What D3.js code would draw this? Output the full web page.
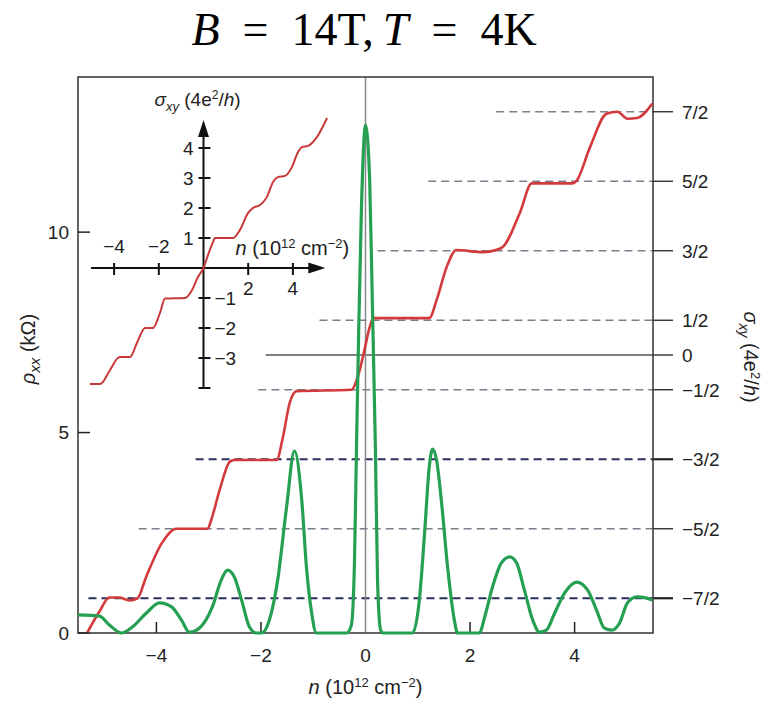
<!DOCTYPE html>
<html>
<head>
<meta charset="utf-8">
<script src="https://cdn.jsdelivr.net/npm/d3@7"></script>
<style>
  body { margin: 0; background: #fff; }
  text { font-family: "Liberation Sans", Arial, sans-serif; fill: #222; }
</style>
</head>
<body>
<div id="chart"></div>
<script>
// data
var nTicks = [-4, -2, 0, 2, 4];
var rhoTicks = [0, 5, 10];
var sigmaLevels = [3.5, 2.5, 1.5, 0.5, 0, -0.5, -1.5, -2.5, -3.5];
var sigmaLabels = ["7/2", "5/2", "3/2", "1/2", "0", "\u22121/2", "\u22123/2", "\u22125/2", "\u22127/2"];
var levelStartN = [2.5, 1.2, 0.23, -0.88, -1.91, -2.05, -3.25, -4.34, -5.3];

// rho_xx (kOhm) vs n
var rhoN = [-5.5, -5.09, -4.9, -4.67, -4.46, -4.19, -3.94, -3.71, -3.52, -3.37, -3.18, -2.93, -2.76, -2.64, -2.51, -2.37, -2.22, -2.09, -1.99, -1.84, -1.68, -1.51, -1.36, -1.22, -1.13, -1.03, -0.94, -0.36, -0.27, -0.21, -0.17, -0.13, -0.08, 0, 0.08, 0.13, 0.19, 0.23, 0.29, 0.34, 0.9, 1.03, 1.13, 1.22, 1.28, 1.36, 1.45, 1.57, 1.7, 1.76, 2.18, 2.28, 2.43, 2.6, 2.76, 2.89, 3.04, 3.2, 3.33, 3.46, 3.62, 3.81, 4.04, 4.25, 4.42, 4.57, 4.71, 4.86, 5.01, 5.19, 5.38, 5.49];
var rhoVal = [0.45, 0.42, 0.2, 0, 0.15, 0.5, 0.75, 0.65, 0.32, 0.02, 0.12, 0.65, 1.32, 1.57, 1.4, 0.82, 0.15, 0, 0, 0.32, 1.32, 3.14, 4.54, 3.32, 1.65, 0.5, 0, 0, 0.2, 1.82, 4.81, 7.56, 10.47, 12.67, 11.3, 8.3, 4.56, 1.32, 0.07, 0, 0, 0.82, 2.49, 4.14, 4.59, 4.31, 3.32, 1.65, 0.32, 0, 0, 0.4, 1.15, 1.75, 1.9, 1.75, 1.07, 0.32, 0.02, 0.07, 0.5, 1.0, 1.27, 1.07, 0.57, 0.12, 0.07, 0.25, 0.75, 0.9, 0.87, 0.82];

// sigma_xy (4e^2/h) vs n
var sigN = [-5.32, -5.09, -4.9, -4.71, -4.52, -4.36, -4.2, -3.89, -3.62, -3.02, -2.95, -2.79, -2.6, -2.51, -1.7, -1.59, -1.45, -1.32, -0.27, -0.15, -0.02, 0.08, 0.15, 1.22, 1.36, 1.55, 1.74, 2.24, 2.6, 2.95, 3.18, 3.96, 4.04, 4.29, 4.61, 4.82, 5.01, 5.19, 5.49];
var sigVal = [-3.99, -3.69, -3.49, -3.49, -3.53, -3.5, -3.2, -2.7, -2.5, -2.5, -2.37, -1.94, -1.54, -1.51, -1.51, -1.22, -0.69, -0.52, -0.5, -0.32, 0.07, 0.4, 0.53, 0.53, 0.79, 1.26, 1.51, 1.48, 1.54, 2.04, 2.47, 2.47, 2.51, 2.98, 3.47, 3.5, 3.4, 3.41, 3.62];

// inset: sigma_xy vs n at low field
var insetN = [-5.08, -4.63, -4.18, -3.83, -3.74, -3.29, -2.98, -2.71, -2.62, -2.26, -1.95, -1.72, -0.83, -0.51, -0.25, 0, 0.2, 0.43, 0.51, 1.32, 1.63, 1.99, 2.21, 2.53, 2.84, 3.11, 3.33, 3.65, 3.96, 4.23, 4.41, 4.68, 5.08, 5.53];
var insetSig = [-3.87, -3.87, -3.4, -3.0, -2.97, -2.97, -2.5, -2.07, -2.0, -2.0, -1.5, -1.02, -1.0, -0.73, -0.3, 0, 0.43, 0.87, 1.0, 1.0, 1.27, 1.83, 2.0, 2.1, 2.37, 2.87, 3.03, 3.07, 3.37, 3.87, 4.03, 4.07, 4.37, 5.0];
var insetXTicks = [-4, -2, 2, 4];
var insetYTicks = [-4, -3, -2, -1, 1, 2, 3, 4];

var margin = {top: 77, right: 123, bottom: 68, left: 78},
    width = 776 - margin.left - margin.right,
    height = 701 - margin.top - margin.bottom;

var root = d3.select("#chart").append("svg")
    .attr("width", 776).attr("height", 701);

// title
var title = root.append("text")
    .attr("x", 364).attr("y", 45)
    .attr("text-anchor", "middle")
    .style("font-family", "'Liberation Serif', 'DejaVu Serif', serif")
    .style("font-size", "46px").style("fill", "#000");
title.append("tspan").style("font-style", "italic").text("B");
title.append("tspan").text("\u2002=\u200214T,\u2009");
title.append("tspan").style("font-style", "italic").text("T");
title.append("tspan").text("\u2002=\u20024K");

var svg = root.append("g")
    .attr("transform", "translate(" + margin.left + "," + margin.top + ")");

var x = d3.scaleLinear().domain([-5.5, 5.5]).range([0, width]);
var yRho = d3.scaleLinear().domain([0, 13.87]).range([height, 0]);
var ySig = d3.scaleLinear().domain([-4, 4]).range([height, 0]);

// horizontal guide lines at the quantised levels
sigmaLevels.forEach(function(lv, i) {
  var strong = lv === -1.5 || lv === -3.5;
  svg.append("line")
    .attr("x1", x(levelStartN[i])).attr("x2", width)
    .attr("y1", ySig(lv)).attr("y2", ySig(lv))
    .attr("stroke", lv === 0 ? "#555" : (strong ? "#2b2f5c" : "#7a7f8c"))
    .attr("stroke-width", strong ? 2 : 1.3)
    .attr("stroke-dasharray", lv === 0 ? null : "8,5");
  // right ticks + labels
  svg.append("line")
    .attr("x1", width).attr("x2", width + 20)
    .attr("y1", ySig(lv)).attr("y2", ySig(lv))
    .attr("stroke", "#222").attr("stroke-width", strong ? 2.2 : 1.3);
  svg.append("text")
    .attr("x", width + 29).attr("y", ySig(lv))
    .attr("dy", "0.36em")
    .style("font-size", "19px")
    .text(sigmaLabels[i]);
});

// vertical line at n = 0
svg.append("line")
  .attr("x1", x(0)).attr("x2", x(0))
  .attr("y1", 0).attr("y2", height)
  .attr("stroke", "#888").attr("stroke-width", 1.5);

// frame
svg.append("rect")
  .attr("width", width).attr("height", height)
  .attr("fill", "none").attr("stroke", "#333").attr("stroke-width", 1.5);

// bottom ticks (inward)
nTicks.filter(function(d) { return d !== 0; }).forEach(function(d) {
  svg.append("line")
    .attr("x1", x(d)).attr("x2", x(d))
    .attr("y1", height).attr("y2", height - 11)
    .attr("stroke", "#222").attr("stroke-width", 1.5);
});
svg.selectAll("xLabels").data(nTicks).enter().append("text")
  .attr("x", function(d) { return x(d); })
  .attr("y", height + 29)
  .attr("text-anchor", "middle")
  .style("font-size", "19px")
  .text(function(d) { return d < 0 ? "\u2212" + Math.abs(d) : d; });

// left ticks (inward)
rhoTicks.forEach(function(d) {
  svg.append("line")
    .attr("x1", 0).attr("x2", 12)
    .attr("y1", yRho(d)).attr("y2", yRho(d))
    .attr("stroke", "#222").attr("stroke-width", 1.5);
});
svg.selectAll("yLabels").data(rhoTicks).enter().append("text")
  .attr("x", -9).attr("y", function(d) { return yRho(d); })
  .attr("dy", "0.36em")
  .attr("text-anchor", "end")
  .style("font-size", "19px")
  .text(function(d) { return d; });

// axis titles
var xt = svg.append("text")
  .attr("x", x(0)).attr("y", height + 61)
  .attr("text-anchor", "middle").style("font-size", "20px");
xt.append("tspan").style("font-style", "italic").text("n");
xt.append("tspan").text(" (10");
xt.append("tspan").attr("dy", -7).style("font-size", "13px").text("12");
xt.append("tspan").attr("dy", 7).text(" cm");
xt.append("tspan").attr("dy", -7).style("font-size", "13px").text("\u22122");
xt.append("tspan").attr("dy", 7).text(")");

var yt = svg.append("text")
  .attr("transform", "translate(-43," + (349 - margin.top) + ") rotate(-90)")
  .attr("text-anchor", "middle").style("font-size", "20px");
yt.append("tspan").style("font-style", "italic").text("\u03c1");
yt.append("tspan").attr("dy", 5).style("font-size", "15px").style("font-style", "italic").text("xx");
yt.append("tspan").attr("dy", -5).text(" (k\u03a9)");

var rt = svg.append("text")
  .attr("transform", "translate(" + (width + 91) + "," + (357 - margin.top) + ") rotate(90)")
  .attr("text-anchor", "middle").style("font-size", "20px");
rt.append("tspan").style("font-style", "italic").text("\u03c3");
rt.append("tspan").attr("dy", 5).style("font-size", "14px").style("font-style", "italic").text("xy");
rt.append("tspan").attr("dy", -5).text(" (4e");
rt.append("tspan").attr("dy", -7).style("font-size", "13px").text("2");
rt.append("tspan").attr("dy", 7).text("/");
rt.append("tspan").style("font-style", "italic").text("h");
rt.append("tspan").text(")");

// main curves
var sigData = sigN.map(function(n, i) { return {n: n, v: sigVal[i]}; });
var rhoData = rhoN.map(function(n, i) { return {n: n, v: rhoVal[i]}; });

svg.append("path")
  .datum(sigData)
  .attr("fill", "none")
  .attr("stroke", "#d23a3c")
  .attr("stroke-width", 2.6)
  .attr("d", d3.line().curve(d3.curveMonotoneX)
    .x(function(d) { return x(d.n); })
    .y(function(d) { return ySig(d.v); }));

svg.append("path")
  .datum(rhoData)
  .attr("fill", "none")
  .attr("stroke", "#25a052")
  .attr("stroke-width", 3.2)
  .attr("d", d3.line().curve(d3.curveMonotoneX)
    .x(function(d) { return x(d.n); })
    .y(function(d) { return yRho(d.v); }));

// ---- inset ----
var inset = root.append("g").attr("transform", "translate(203.5,268)");
var ix = d3.scaleLinear().domain([-5, 5]).range([-111.75, 111.75]);
var iy = d3.scaleLinear().domain([-4, 4]).range([120, -120]);

inset.append("line")
  .attr("x1", ix(-5.03)).attr("x2", ix(5.1))
  .attr("y1", 0).attr("y2", 0)
  .attr("stroke", "#111").attr("stroke-width", 2);
inset.append("path")
  .attr("d", "M" + ix(5.45) + ",0 L" + (ix(5.45) - 17) + ",-5.5 L" + (ix(5.45) - 17) + ",5.5 Z")
  .attr("fill", "#111");
inset.append("line")
  .attr("x1", 0).attr("x2", 0)
  .attr("y1", iy(-4)).attr("y2", iy(4.6))
  .attr("stroke", "#111").attr("stroke-width", 2);
inset.append("path")
  .attr("d", "M0," + iy(4.93) + " L-5.5," + (iy(4.93) + 17) + " L5.5," + (iy(4.93) + 17) + " Z")
  .attr("fill", "#111");

insetXTicks.forEach(function(d) {
  inset.append("line")
    .attr("x1", ix(d)).attr("x2", ix(d))
    .attr("y1", -5).attr("y2", 7)
    .attr("stroke", "#111").attr("stroke-width", 2);
  inset.append("text")
    .attr("x", ix(d)).attr("y", d < 0 ? -15 : 27)
    .attr("text-anchor", "middle")
    .style("font-size", "19px")
    .text(d < 0 ? "\u2212" + Math.abs(d) : d);
});
insetYTicks.forEach(function(d) {
  inset.append("line")
    .attr("x1", -5).attr("x2", 7)
    .attr("y1", iy(d)).attr("y2", iy(d))
    .attr("stroke", "#111").attr("stroke-width", 2);
  if (d === -4) return;
  inset.append("text")
    .attr("x", d > 0 ? -10 : 11).attr("y", iy(d))
    .attr("dy", "0.36em")
    .attr("text-anchor", d > 0 ? "end" : "start")
    .style("font-size", "19px")
    .text(d < 0 ? "\u2212" + Math.abs(d) : d);
});

var insetData = insetN.map(function(n, i) { return {n: n, v: insetSig[i]}; });
inset.append("path")
  .datum(insetData)
  .attr("fill", "none")
  .attr("stroke", "#c83a3a")
  .attr("stroke-width", 2)
  .attr("d", d3.line().curve(d3.curveMonotoneX)
    .x(function(d) { return ix(d.n); })
    .y(function(d) { return iy(d.v); }));

var it = inset.append("text")
  .attr("x", -49).attr("y", -162)
  .style("font-size", "19px");
it.append("tspan").style("font-style", "italic").text("\u03c3");
it.append("tspan").attr("dy", 5).style("font-size", "13px").style("font-style", "italic").text("xy");
it.append("tspan").attr("dy", -5).text(" (4e");
it.append("tspan").attr("dy", -7).style("font-size", "12px").text("2");
it.append("tspan").attr("dy", 7).text("/");
it.append("tspan").style("font-style", "italic").text("h");
it.append("tspan").text(")");

var inx = inset.append("text")
  .attr("x", 32).attr("y", -13)
  .style("font-size", "20px");
inx.append("tspan").style("font-style", "italic").text("n");
inx.append("tspan").text(" (10");
inx.append("tspan").attr("dy", -7).style("font-size", "13px").text("12");
inx.append("tspan").attr("dy", 7).text(" cm");
inx.append("tspan").attr("dy", -7).style("font-size", "13px").text("\u22122");
inx.append("tspan").attr("dy", 7).text(")");
</script>
</body>
</html>
